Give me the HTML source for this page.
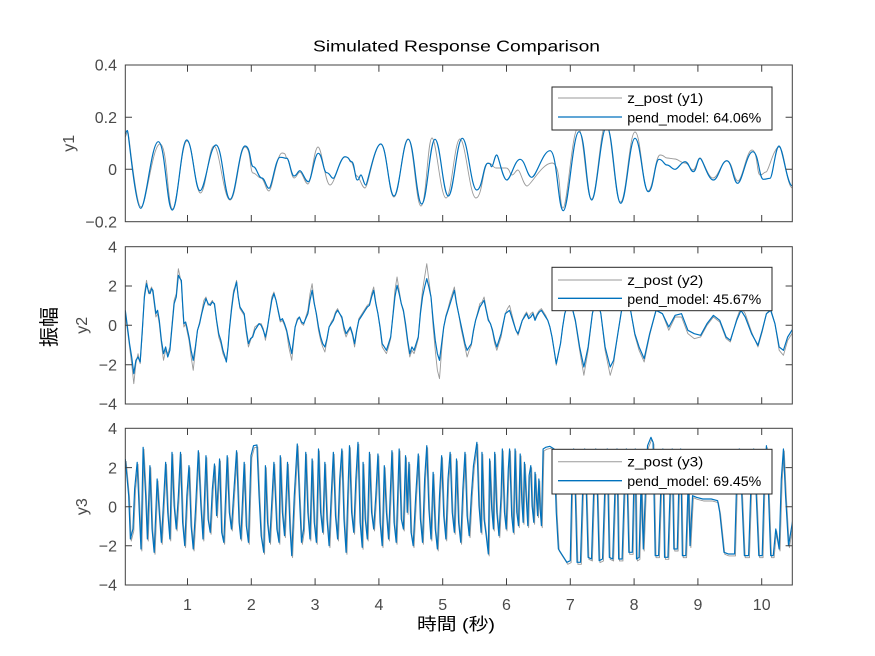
<!DOCTYPE html>
<html><head><meta charset="utf-8"><style>
html,body{margin:0;padding:0;background:#fff;}
svg{display:block;}
.tk{font-family:"Liberation Sans","Noto Sans CJK JP",sans-serif;font-size:16px;fill:#4a4a4a;}
.lg{font-family:"Liberation Sans","Noto Sans CJK JP",sans-serif;font-size:14px;fill:#000;}
</style></head><body>
<svg width="875" height="656" viewBox="0 0 875 656" xmlns="http://www.w3.org/2000/svg">
<rect x="0" y="0" width="875" height="656" fill="#fff"/>
<defs>
<clipPath id="c1"><rect x="125.3" y="65" width="667" height="156.7"/></clipPath>
<clipPath id="c2"><rect x="125.3" y="246.7" width="667" height="157.3"/></clipPath>
<clipPath id="c3"><rect x="125.3" y="428.3" width="667" height="156.7"/></clipPath>
<polyline id="y3p" fill="none" vector-effect="non-scaling-stroke" stroke-linejoin="round" points="0,90 8,200 12,330 18,300 22,180 28,100 33,250 37,360 42,55 48,200 52,330 58,110 63,300 68,370 75,150 80,250 85,340 95,100 100,250 105,330 110,70 115,230 120,300 125,200 130,70 135,280 140,350 145,200 150,110 155,290 160,360 165,250 172,65 178,230 183,330 190,80 195,270 200,310 205,180 210,105 215,260 222,90 227,310 232,340 240,80 245,250 250,300 255,200 262,65 268,280 272,330 280,100 285,290 290,340 296,80 302,50 310,48 315,200 320,320 326,370 330,110 335,280 340,340 345,220 350,100 357,300 362,340 365,80 370,250 375,320 382,100 388,300 392,380 398,200 405,45 410,200 415,340 420,300 425,70 430,250 435,330 440,90 445,280 450,340 455,60 460,250 465,310 470,100 475,270 480,350 485,200 490,70 495,260 500,330 505,150 510,60 515,270 520,370 524,200 528,50 533,250 538,310 543,150 548,40 553,280 558,355 560,100 565,270 570,330 575,70 580,250 585,300 590,200 595,75 600,280 605,350 610,110 615,250 620,330 628,65 633,280 638,340 645,60 650,270 655,300 660,80 664,250 668,100 673,310 678,350 684,200 690,75 695,270 700,340 705,150 710,50 715,240 720,330 725,130 730,300 735,360 740,200 745,80 750,260 755,330 760,150 765,70 770,250 775,310 780,90 785,280 790,340 795,180 800,70 805,260 810,320 815,200 820,110 828,40 833,230 838,310 840,70 845,270 850,320 855,375 858,90 863,240 867,300 870,70 875,250 880,320 885,200 888,60 893,250 897,300 902,120 905,60 910,260 914,310 918,60 922,250 926,290 930,75 934,220 937,280 940,100 944,200 948,290 951,140 955,110 958,230 962,280 965,130 968,200 971,260 974,150 977,240 980,290 984,60 990,55 1000,52 1010,60 1015,250 1020,360 1030,380 1040,400 1048,395 1052,150 1056,60 1060,200 1064,400 1072,400 1078,150 1082,60 1086,200 1090,385 1098,390 1104,150 1108,60 1112,200 1116,395 1124,390 1130,150 1135,60 1140,385 1148,390 1154,150 1158,60 1162,390 1170,390 1176,150 1180,60 1186,370 1194,370 1198,150 1201,60 1204,390 1210,385 1215,150 1220,360 1226,150 1230,50 1238,25 1243,40 1248,380 1256,380 1262,150 1266,60 1270,385 1278,385 1284,150 1288,60 1292,360 1300,360 1304,150 1308,60 1312,380 1320,380 1326,150 1330,350 1336,200 1345,205 1360,210 1380,210 1395,215 1400,250 1410,370 1420,375 1435,375 1440,150 1446,60 1452,200 1458,380 1468,380 1474,150 1480,60 1486,200 1492,380 1500,380 1505,150 1510,50 1515,200 1520,380 1526,380 1532,300 1540,360 1545,150 1550,60 1555,200 1562,350 1575,250"/>
</defs>

<!-- Title -->
<text x="456.5" y="51.5" text-anchor="middle" font-family="Liberation Sans, sans-serif" font-size="16" fill="#000" textLength="287" lengthAdjust="spacingAndGlyphs">Simulated Response Comparison</text>

<!-- ===== Axes 1 ===== -->
<g clip-path="url(#c1)" fill="none" stroke-linejoin="round">
<path stroke="#9a9a9a" stroke-width="0.9" d="M125.3 137 S127.1 132 128 132 S135.8 207 141 207 S152.4 144 160 144 S167.5 209 172.5 209 S181.2 141 187 141 S195.1 193 200.5 193 S208.6 146 214 146 S223.6 200 230 200 S239 147 245 147 S249.8 173 253 173 S257.8 178 261 178 S265.8 191 269 191 S276.8 153 282 153 S285 158 287 158 S291.2 178 294 178 S297.6 172 300 172 S304.8 184 308 184 S314 147 318 147 S325.2 185 330 185 S339 157 345 157 S348.6 162 351 162 S354.6 176 357 176 S361.8 188 365 188 S374.4 144 380.7 144 S388.7 197 394 197 S402.4 139 408 139 S415.8 206 421 206 S427.6 138 432 138 S440.4 198 446 198 S454.4 139 460 139 S469.6 198 476 198 S483.2 163 488 163 S492.8 168 496 168 S502 168 506 168 S509.6 175 512 175 S515.6 170 518 170 S523.4 186 527 186 S542 163 552 163 S558.6 208 563 208 S572 128 578 128 S586.1 199 591.5 199 S600.2 124 606 124 S614.7 202 620.5 202 S629.2 132 635 132 S642.8 191 648 191 S655.2 155 660 155 S664.2 158 667 158 S671.8 159 675 159 S681 163 685 163 S689.8 170 693 170 S697.2 158 700 158 S707.8 178 713 178 S721.4 161 727 161 S733.6 181 738 181 S746.4 150 752 150 S756.8 175 760 175 S763.6 172 766 172 S773.8 147 779 147 S787 188 792.3 188"/>
<path stroke="#0072BD" stroke-width="1.2" d="M125.3 134 S126.6 130.5 127.5 130.5 S135.4 208.3 140.7 208.3 S151.3 141.7 158.3 141.7 S166.7 210 172.3 210 S180.9 140 186.7 140 S194.7 190.7 200 190.7 S209.6 145 216 145 S224.4 199.3 230 199.3 S239 146 245 146 S250 166.7 253.3 166.7 S258.3 178 261.7 178 S266.1 188.3 269 188.3 S275.6 157.3 280 157.3 S284 158.3 286.7 158.3 S291.1 176 294 176 S297.6 170.7 300 170.7 S305 181.7 308.3 181.7 S314.3 153.3 318.3 153.3 S323.3 172.7 326.7 172.7 S330.7 178.3 333.3 178.3 S340.3 156.7 345 156.7 S349 161.7 351.7 161.7 S355.1 180 357.3 180 S359.5 175 361 175 S363.8 185 365.7 185 S374.7 144 380.7 144 S388.7 196 394 196 S402.6 139.3 408.3 139.3 S416.3 204 421.7 204 S429.7 139.3 435 139.3 S443 196 448.3 196 S456.7 138.3 462.3 138.3 S470.9 190 476.7 190 S483.3 163.3 487.7 163.3 S490.1 166.7 491.7 166.7 S494.7 155 496.7 155 S502.7 180 506.7 180 S514.7 159.3 520 159.3 S527 177.3 531.7 177.3 S542.7 150.7 550 150.7 S558 210.7 563.3 210.7 S572.7 131.7 579 131.7 S586.6 200 591.7 200 S600.7 126.7 606.7 126.7 S615.1 203.3 620.7 203.3 S629.3 138.3 635 138.3 S643 191.7 648.3 191.7 S654.7 159.3 659 159.3 S663.8 165 667 165 S671.8 169.3 675 169.3 S681 161.7 685 161.7 S690 171.7 693.3 171.7 S697.3 158.3 700 158.3 S708 180 713.3 180 S721.3 160.7 726.7 160.7 S733.3 183.3 737.7 183.3 S746.7 151.7 752.7 151.7 S759.1 179.3 763.3 179.3 S767.3 178.3 770 178.3 S775.4 146 779 146 S787 186 792.3 186"/>
</g>

<!-- ===== Axes 2 ===== -->
<g clip-path="url(#c2)">
<g transform="matrix(0.4246 0 0 0.3333 125.3 247)" fill="none" stroke-linejoin="round">
<polyline vector-effect="non-scaling-stroke" stroke="#9a9a9a" stroke-width="0.9" points="0,200 6,260 10,300 15,350 20,410 25,350 30,320 35,350 40,260 45,140 50,100 55,140 58,130 62,120 65,140 70,190 72,210 76,200 80,230 85,290 90,340 95,310 100,320 105,300 110,230 115,160 120,140 123,90 125,65 129,90 132,110 135,180 138,240 142,230 145,250 150,280 155,330 160,370 165,310 170,250 175,225 180,195 185,160 190,150 195,175 200,170 205,160 210,175 215,225 220,270 225,290 230,320 235,335 238,340 242,300 245,245 250,180 255,130 258,120 262,100 266,150 270,185 275,195 280,205 285,260 290,300 295,280 300,265 305,240 310,235 315,230 320,230 325,245 330,280 335,245 340,195 345,150 350,135 355,160 360,195 365,225 370,220 375,235 380,255 385,300 392,340 396,290 400,240 405,215 410,210 415,230 420,235 425,210 430,190 435,140 440,110 445,165 450,205 455,250 460,280 465,300 470,315 475,280 480,240 485,225 490,215 495,195 500,185 505,200 510,215 515,250 520,270 525,255 530,245 535,265 540,300 545,255 550,215 555,205 560,195 565,185 570,175 575,170 580,140 585,120 590,165 595,200 600,245 605,300 610,310 615,320 620,300 625,275 630,205 635,130 640,90 645,130 650,170 655,195 660,240 665,290 670,330 675,310 680,320 685,300 690,275 695,190 700,130 705,90 710,50 715,100 720,150 725,240 730,310 735,370 740,395 745,310 750,240 755,205 760,185 765,160 770,140 775,120 780,165 785,200 790,240 795,270 800,300 805,330 810,310 815,295 820,255 825,220 830,195 835,170 840,165 845,150 850,185 855,215 860,230 865,255 870,290 875,310 880,290 885,270 890,235 895,200 900,185 905,175 910,200 915,225 920,250 925,265 930,245 935,220 940,205 945,195 950,210 955,200 960,195 965,215 970,200 975,190 980,185 985,195 990,205 995,220 1000,240 1005,270 1010,310 1015,355 1020,320 1025,290 1030,240 1035,200 1045,160 1052,180 1060,225 1070,310 1080,385 1090,310 1100,200 1110,150 1120,200 1130,310 1142,385 1150,350 1160,260 1170,180 1180,110 1190,190 1200,265 1210,310 1222,345 1235,265 1250,190 1265,200 1280,250 1295,210 1310,210 1325,260 1340,275 1355,270 1370,235 1385,210 1400,225 1415,275 1425,285 1440,215 1450,180 1460,200 1475,255 1490,300 1500,255 1510,200 1520,185 1530,230 1540,310 1550,325 1560,280 1575,250"/>
<polyline vector-effect="non-scaling-stroke" stroke="#0072BD" stroke-width="1.2" points="0,190 6,250 10,290 15,330 20,380 25,340 30,330 35,345 40,250 45,150 50,110 55,135 58,140 62,125 65,130 70,180 72,200 76,190 80,220 85,280 90,320 95,300 100,330 105,310 110,240 115,170 120,150 123,110 125,85 129,95 132,100 135,170 138,230 142,225 145,240 150,270 155,310 160,340 165,300 170,250 175,230 180,200 185,175 190,155 195,170 200,175 205,165 210,170 215,220 220,260 225,280 230,310 235,330 238,345 242,300 245,250 250,190 255,140 258,125 262,105 266,150 270,180 275,190 280,200 285,250 290,290 295,275 300,270 305,250 310,240 315,230 320,235 325,250 330,270 335,240 340,200 345,160 350,140 355,160 360,190 365,220 370,215 375,230 380,250 385,280 392,320 396,280 400,240 405,220 410,210 415,225 420,230 425,215 430,200 435,160 440,130 445,170 450,200 455,240 460,270 465,290 470,300 475,275 480,240 485,230 490,220 495,200 500,190 505,200 510,210 515,240 520,260 525,250 530,240 535,260 540,290 545,250 550,220 555,210 560,200 565,190 570,180 575,175 580,150 585,130 590,170 595,200 600,240 605,290 610,300 615,310 620,290 625,270 630,210 635,150 640,115 645,140 650,170 655,190 660,230 665,280 670,320 675,300 680,310 685,290 690,270 695,200 700,150 705,120 710,95 715,120 720,150 725,220 730,280 735,320 740,340 745,290 750,240 755,210 760,190 765,170 770,150 775,130 780,170 785,200 790,230 795,260 800,290 805,310 810,300 815,290 820,250 825,220 830,200 835,180 840,170 845,160 850,190 855,220 860,230 865,250 870,280 875,300 880,280 885,260 890,230 895,200 900,195 905,190 910,210 915,230 920,250 925,260 930,240 935,220 940,210 945,200 950,215 955,210 960,200 965,220 970,205 975,195 980,190 985,200 990,210 995,220 1000,240 1005,270 1010,310 1015,350 1020,320 1025,290 1030,240 1035,200 1045,160 1052,180 1060,220 1070,300 1080,360 1090,300 1100,200 1110,150 1120,200 1130,300 1142,360 1150,340 1160,260 1170,180 1180,120 1190,190 1200,260 1210,300 1222,335 1235,260 1250,190 1265,200 1280,240 1295,205 1310,200 1325,250 1340,260 1355,265 1370,230 1385,205 1400,220 1415,270 1425,280 1440,220 1450,190 1460,210 1475,260 1490,295 1500,250 1510,200 1520,190 1530,230 1540,300 1550,310 1560,270 1575,240"/>
</g>
</g>

<!-- ===== Axes 3 ===== -->
<g clip-path="url(#c3)">
<g transform="matrix(0.4246 0 0 0.3333 125.3 429)">
<use href="#y3p" stroke="#9a9a9a" stroke-width="0.9" transform="translate(2,6)"/>
<use href="#y3p" stroke="#0072BD" stroke-width="1.2"/>
</g>
</g>

<!-- Axes boxes and ticks -->
<g fill="none" stroke="#404040" stroke-width="1">
<rect x="125.3" y="65" width="667" height="156.7"/>
<rect x="125.3" y="246.7" width="667" height="157.3"/>
<rect x="125.3" y="428.3" width="667" height="156.7"/>
<!-- y ticks axes1 -->
<path d="M125.3 117.2h6.7M125.3 169.3h6.7M792.3 117.2h-6.7M792.3 169.3h-6.7"/>
<!-- y ticks axes2 -->
<path d="M125.3 286h6.7M125.3 325.3h6.7M125.3 364.7h6.7M792.3 286h-6.7M792.3 325.3h-6.7M792.3 364.7h-6.7"/>
<!-- y ticks axes3 -->
<path d="M125.3 467.6h6.7M125.3 506.7h6.7M125.3 545.8h6.7M792.3 467.6h-6.7M792.3 506.7h-6.7M792.3 545.8h-6.7"/>
<!-- x ticks -->
<path d="M187.5 65v6.7M251.3 65v6.7M315.1 65v6.7M378.9 65v6.7M442.7 65v6.7M506.5 65v6.7M570.3 65v6.7M634.1 65v6.7M697.9 65v6.7M761.7 65v6.7
M187.5 221.7v-6.7M251.3 221.7v-6.7M315.1 221.7v-6.7M378.9 221.7v-6.7M442.7 221.7v-6.7M506.5 221.7v-6.7M570.3 221.7v-6.7M634.1 221.7v-6.7M697.9 221.7v-6.7M761.7 221.7v-6.7
M187.5 246.7v6.7M251.3 246.7v6.7M315.1 246.7v6.7M378.9 246.7v6.7M442.7 246.7v6.7M506.5 246.7v6.7M570.3 246.7v6.7M634.1 246.7v6.7M697.9 246.7v6.7M761.7 246.7v6.7
M187.5 404v-6.7M251.3 404v-6.7M315.1 404v-6.7M378.9 404v-6.7M442.7 404v-6.7M506.5 404v-6.7M570.3 404v-6.7M634.1 404v-6.7M697.9 404v-6.7M761.7 404v-6.7
M187.5 428.3v6.7M251.3 428.3v6.7M315.1 428.3v6.7M378.9 428.3v6.7M442.7 428.3v6.7M506.5 428.3v6.7M570.3 428.3v6.7M634.1 428.3v6.7M697.9 428.3v6.7M761.7 428.3v6.7
M187.5 585v-6.7M251.3 585v-6.7M315.1 585v-6.7M378.9 585v-6.7M442.7 585v-6.7M506.5 585v-6.7M570.3 585v-6.7M634.1 585v-6.7M697.9 585v-6.7M761.7 585v-6.7"/>
</g>

<!-- Y tick labels -->
<g class="tk" text-anchor="end">
<text x="117" y="70.7">0.4</text>
<text x="117" y="122.9">0.2</text>
<text x="117" y="175">0</text>
<text x="117" y="227.4">−0.2</text>
<text x="117" y="252.4">4</text>
<text x="117" y="291.7">2</text>
<text x="117" y="331">0</text>
<text x="117" y="370.4">−2</text>
<text x="117" y="409.7">−4</text>
<text x="117" y="434">4</text>
<text x="117" y="473.3">2</text>
<text x="117" y="512.4">0</text>
<text x="117" y="551.5">−2</text>
<text x="117" y="590.7">−4</text>
</g>

<!-- X tick labels -->
<g class="tk" text-anchor="middle">
<text x="187.5" y="610">1</text>
<text x="251.3" y="610">2</text>
<text x="315.1" y="610">3</text>
<text x="378.9" y="610">4</text>
<text x="442.7" y="610">5</text>
<text x="506.5" y="610">6</text>
<text x="570.3" y="610">7</text>
<text x="634.1" y="610">8</text>
<text x="697.9" y="610">9</text>
<text x="761.7" y="610">10</text>
</g>

<!-- Y axis labels -->
<g class="tk" text-anchor="middle">
<text transform="translate(74,143.3) rotate(-90)">y1</text>
<text transform="translate(87,325.3) rotate(-90)">y2</text>
<text transform="translate(87,506.7) rotate(-90)">y3</text>
</g>
<text transform="translate(56,327) rotate(-90)" text-anchor="middle" font-family="Liberation Sans, Noto Sans CJK JP, sans-serif" font-size="20" fill="#000">振幅</text>

<!-- X axis label -->
<text x="417" y="630" font-family="Liberation Sans, Noto Sans CJK JP, sans-serif" font-size="17" fill="#000" textLength="78" lengthAdjust="spacingAndGlyphs">時間 (秒)</text>

<!-- Legends -->
<g>
<rect x="552" y="87" width="220" height="43" fill="#fff" stroke="#262626" stroke-width="1"/>
<line x1="558" y1="98" x2="622" y2="98" stroke="#9a9a9a" stroke-width="1"/>
<line x1="558" y1="117" x2="622" y2="117" stroke="#0072BD" stroke-width="1.3"/>
<text class="lg" x="627.3" y="103" textLength="76" lengthAdjust="spacingAndGlyphs">z_post (y1)</text>
<text class="lg" x="627.3" y="122.5" textLength="134" lengthAdjust="spacingAndGlyphs">pend_model: 64.06%</text>

<rect x="552" y="267.3" width="220" height="43.4" fill="#fff" stroke="#262626" stroke-width="1"/>
<line x1="558" y1="280" x2="622" y2="280" stroke="#9a9a9a" stroke-width="1"/>
<line x1="558" y1="298.3" x2="622" y2="298.3" stroke="#0072BD" stroke-width="1.3"/>
<text class="lg" x="627.3" y="285" textLength="76" lengthAdjust="spacingAndGlyphs">z_post (y2)</text>
<text class="lg" x="627.3" y="303.8" textLength="134" lengthAdjust="spacingAndGlyphs">pend_model: 45.67%</text>

<rect x="552" y="449.3" width="220" height="44.7" fill="#fff" stroke="#262626" stroke-width="1"/>
<line x1="558" y1="461.7" x2="622" y2="461.7" stroke="#9a9a9a" stroke-width="1"/>
<line x1="558" y1="480.7" x2="622" y2="480.7" stroke="#0072BD" stroke-width="1.3"/>
<text class="lg" x="627.3" y="466.7" textLength="76" lengthAdjust="spacingAndGlyphs">z_post (y3)</text>
<text class="lg" x="627.3" y="486.2" textLength="134" lengthAdjust="spacingAndGlyphs">pend_model: 69.45%</text>
</g>
</svg>
</body></html>
